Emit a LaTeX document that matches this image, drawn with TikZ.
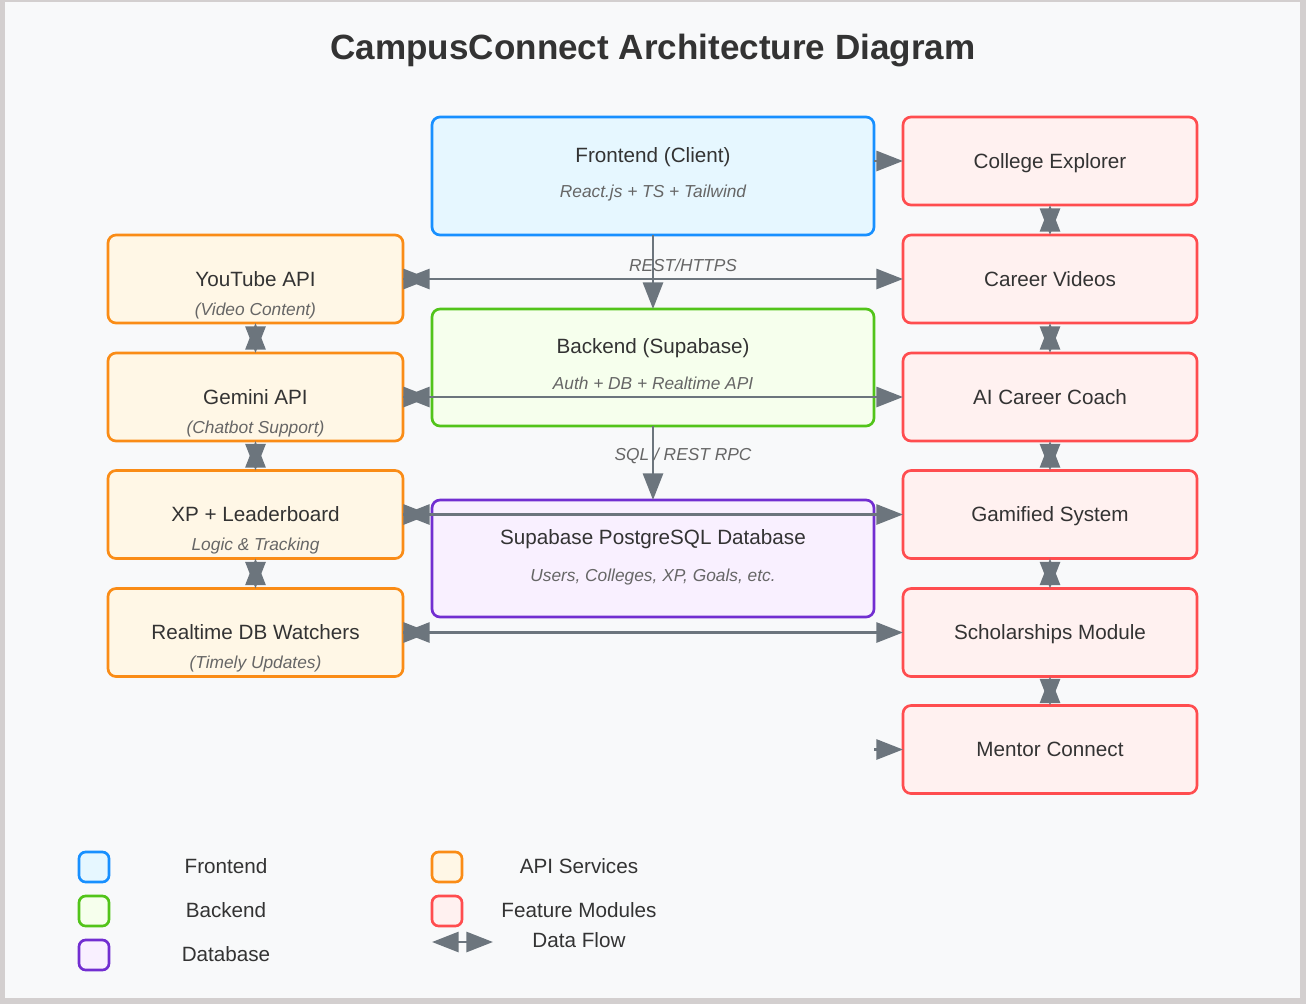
\documentclass[tikz,border=0pt]{standalone}
\usepackage{fontspec}
\setmainfont{Liberation Sans}
\usetikzlibrary{arrows.meta}

\definecolor{pagebg}{HTML}{F8F9FA}
\definecolor{frame}{HTML}{D3CFCF}
\definecolor{txt}{HTML}{333333}
\definecolor{subtxt}{HTML}{666666}
\definecolor{flowgray}{HTML}{6C757D}
\definecolor{feblue}{HTML}{1890FF}
\definecolor{fefill}{HTML}{E6F7FF}
\definecolor{begreen}{HTML}{52C41A}
\definecolor{befill}{HTML}{F6FFED}
\definecolor{dbpurple}{HTML}{722ED1}
\definecolor{dbfill}{HTML}{F9F0FF}
\definecolor{apiorange}{HTML}{FA8C16}
\definecolor{apifill}{HTML}{FFF7E6}
\definecolor{featred}{HTML}{FF4D4F}
\definecolor{featfill}{HTML}{FFF1F0}

\begin{document}
\begin{tikzpicture}
	[x=0.75pt, y=-0.75pt,
	box/.style={rectangle, rounded corners=6pt, line width=2pt, inner sep=0pt, outer sep=0pt},
	front/.style={box, draw=feblue, fill=fefill, minimum width=331.5pt, minimum height=88.5pt},
	back/.style={box, draw=begreen, fill=befill, minimum width=331.5pt, minimum height=87.75pt},
	data/.style={box, draw=dbpurple, fill=dbfill, minimum width=331.5pt, minimum height=87.75pt},
	api/.style={box, draw=apiorange, fill=apifill, minimum width=221.25pt, minimum height=66pt, ttl},
	feat/.style={box, draw=featred, fill=featfill, minimum width=220.5pt, minimum height=66pt, ttl},
	key/.style={rectangle, rounded corners=5pt, line width=2pt, minimum size=22.5pt, inner sep=0pt},
	ttl/.style={text=txt, font=\fontsize{15.5}{18}\selectfont, text height=11pt, text depth=0pt},
	sub/.style={text=subtxt, font=\fontsize{13}{16}\selectfont\itshape, text height=9.3pt, text depth=0pt},
	lbl/.style={text=subtxt, font=\fontsize{13}{16}\selectfont\itshape},
	flow/.style={draw=flowgray, line width=2.2pt, >={Triangle[length=20pt,width=15pt]}}]

	% page
	\fill[frame] (0,0) rectangle (1306,1004);
	\fill[pagebg] (5,1.5) rectangle (1300,998);
	\node[text=txt, font=\fontsize{26.3}{30}\selectfont\bfseries, text height=19pt, text depth=0pt] (title) at (653,47) {CampusConnect Architecture Diagram};

	% middle column
	\node[front] (fe) at (653,176) {};
	\node[ttl] (fe-t) at (653,155) {Frontend (Client)};
	\node[sub] (fe-s) at (653,191) {React.js + TS + Tailwind};
	\node[back] (be) at (653,367.5) {};
	\node[ttl] (be-t) at (653,346) {Backend (Supabase)};
	\node[sub] (be-s) at (653,383) {Auth + DB + Realtime API};
	\node[data] (db) at (653,558.5) {};
	\node[ttl] (db-t) at (653,537) {Supabase PostgreSQL Database};
	\node[sub] (db-s) at (653,575) {Users, Colleges, XP, Goals, etc.};

	% api services
	\node[api] (yt) at (255.5,279) {YouTube API};
	\node[sub] (yt-s) at (255.5,309) {(Video Content)};
	\node[api] (gem) at (255.5,397) {Gemini API};
	\node[sub] (gem-s) at (255.5,427) {(Chatbot Support)};
	\node[api] (xp) at (255.5,514.5) {XP + Leaderboard};
	\node[sub] (xp-s) at (255.5,544) {Logic \& Tracking};
	\node[api] (rt) at (255.5,632.5) {Realtime DB Watchers};
	\node[sub] (rt-s) at (255.5,662) {(Timely Updates)};

	% feature modules
	\node[feat] (col) at (1050,161) {College Explorer};
	\node[feat] (cv) at (1050,279) {Career Videos};
	\node[feat] (ai) at (1050,397) {AI Career Coach};
	\node[feat] (gam) at (1050,514.5) {Gamified System};
	\node[feat] (sch) at (1050,632.5) {Scholarships Module};
	\node[feat] (men) at (1050,749.5) {Mentor Connect};

	% data flow
	\draw[flow,->] (fe) -- (be);
	\node[lbl] (rest) at (683,265) {REST/HTTPS};
	\draw[flow,->] (be) -- (db);
	\node[lbl] (rpc) at (683,456) {SQL / REST RPC};
	\draw[flow,->] (fe.east |- col) -- (col.west);
	\draw[flow,->] (fe.east |- men) -- (men.west);
	\foreach \a/\b in {yt/cv, gem/ai, xp/gam, rt/sch} {
		\draw[flow,<->] (\a.east) -- (\b.west);
		\draw[flow,->] (\a.east) -- ++(27,0);
	}
	\foreach \a/\b in {yt/gem, gem/xp, xp/rt, col/cv, cv/ai, ai/gam, gam/sch, sch/men}
		\draw[flow,<->] (\a.south) -- (\b.north);

	% legend
	\node[key, draw=feblue, fill=fefill] (k-fe) at (94,867) {};
	\node[ttl] (k-fe-t) at (226,866) {Frontend};
	\node[key, draw=begreen, fill=befill] (k-be) at (94,911) {};
	\node[ttl] (k-be-t) at (226,910) {Backend};
	\node[key, draw=dbpurple, fill=dbfill] (k-db) at (94,955) {};
	\node[ttl] (k-db-t) at (226,954) {Database};
	\node[key, draw=apiorange, fill=apifill] (k-api) at (447,867) {};
	\node[ttl] (k-api-t) at (579,866) {API Services};
	\node[key, draw=featred, fill=featfill] (k-feat) at (447,911) {};
	\node[ttl] (k-feat-t) at (579,910) {Feature Modules};
	\coordinate (k-a) at (432,942);
	\coordinate (k-b) at (493,942);
	\draw[flow,<->] (k-a) -- (k-b);
	\node[ttl] (k-df) at (579,940) {Data Flow};
\end{tikzpicture}
\end{document}
